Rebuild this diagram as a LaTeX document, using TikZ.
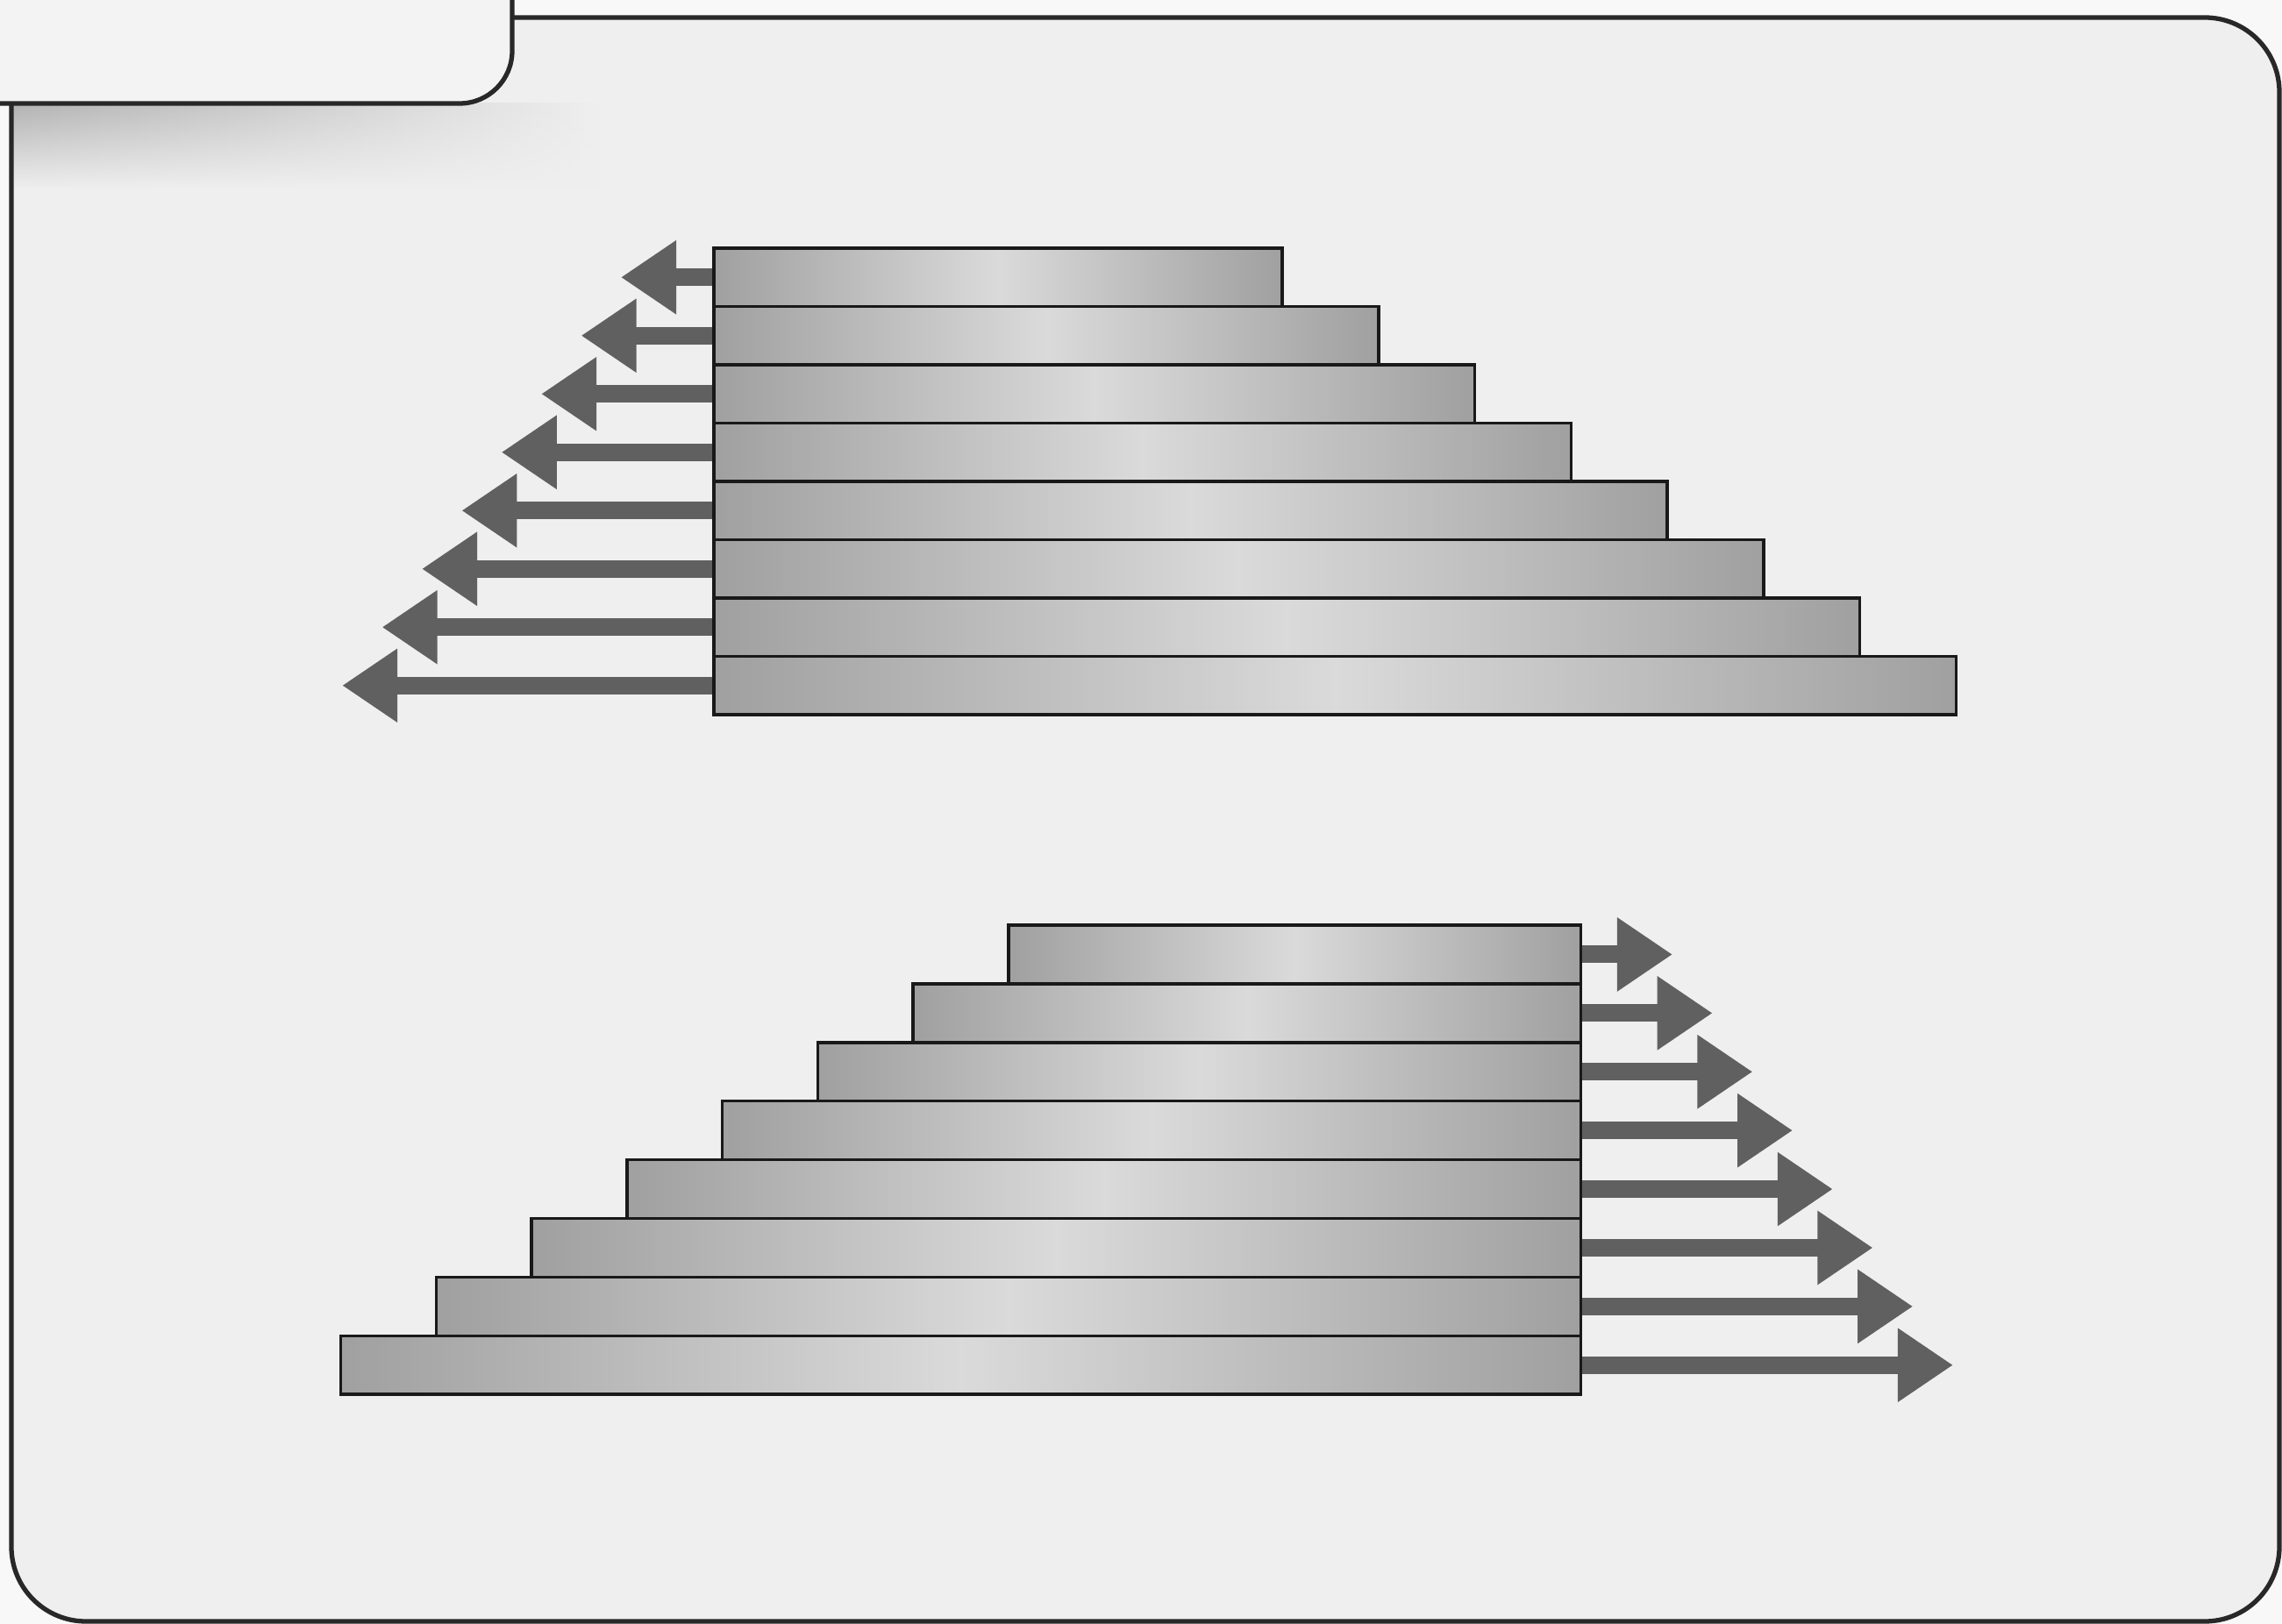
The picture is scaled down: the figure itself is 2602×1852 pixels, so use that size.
\documentclass[tikz,border=0pt]{standalone}
\usepackage{xcolor}
\usepackage{tikz}
\usetikzlibrary{arrows.meta, fadings}

\definecolor{pagebg}{RGB}{248,248,248}
\definecolor{panelbg}{RGB}{239,239,239}
\definecolor{tabbg}{RGB}{243,243,243}
\definecolor{framegray}{RGB}{40,40,40}
\definecolor{bardark}{RGB}{160,160,160}
\definecolor{barlight}{RGB}{218,218,218}
\definecolor{pushgray}{RGB}{96,96,96}

\begin{document}
\begin{tikzpicture}[x=0.01cm, y=-0.01cm,
  frame/.style={framegray, line width=1.5pt},
  layer/.style={draw=black!90, line width=1pt, inner sep=0pt,
    left color=bardark, right color=bardark, middle color=barlight},
  push/.style={pushgray, line width=0.2cm,
    -{Triangle[length=0.63cm, width=0.8cm]}}]
  % page, in pixel units (2602 x 1852), y runs downwards
  \useasboundingbox (0,0) rectangle (2602,1852);
  \fill[pagebg] (0,0) rectangle (2602,1852);
  \fill[panelbg, rounded corners=0.85cm] (13,20) rectangle (2599,1849);
  % shadow under the tab
  \shade[left color=black!30, right color=panelbg, path fading=south]
    (13,118) rectangle (690,215);
  % tab in the top left corner
  \fill[tabbg] (0,0) -- (584,0) -- (584,58) arc[start angle=0, end angle=90, radius=60] -- (0,118) -- cycle;
  \draw[frame] (584,0) -- (584,58) arc[start angle=0, end angle=90, radius=60] -- (0,118);
  % panel outline
  \draw[frame, rounded corners=0.85cm] (584,20) -- (2599,20) -- (2599,1849) -- (13,1849) -- (13,118);

  % upper stack: left edges flush at x=812, widths grow by 109.7px
  \foreach \i in {1,...,8}{
    \pgfmathsetmacro{\w}{6.48+1.097*(\i-1)}
    \pgfmathsetmacro{\yc}{283+66.5*(\i-0.5)}
    \node[layer, anchor=west, minimum width=\w cm, minimum height=0.665cm] (top\i) at (812,\yc) {};
    \coordinate (toptip\i) at ({708-45.4*(\i-1)},\yc);
  }
  \foreach \i in {1,...,8}
    \draw[push] (top\i.west) -- (toptip\i);

  % lower stack: right edges flush at x=1804
  \foreach \i in {1,...,8}{
    \pgfmathsetmacro{\w}{6.52+1.087*(\i-1)}
    \pgfmathsetmacro{\yc}{1055+66.9*(\i-0.5)}
    \node[layer, anchor=east, minimum width=\w cm, minimum height=0.669cm] (bot\i) at (1804,\yc) {};
    \coordinate (bottip\i) at ({1907+45.7*(\i-1)},\yc);
  }
  \foreach \i in {1,...,8}
    \draw[push] (bot\i.east) -- (bottip\i);
\end{tikzpicture}
\end{document}
